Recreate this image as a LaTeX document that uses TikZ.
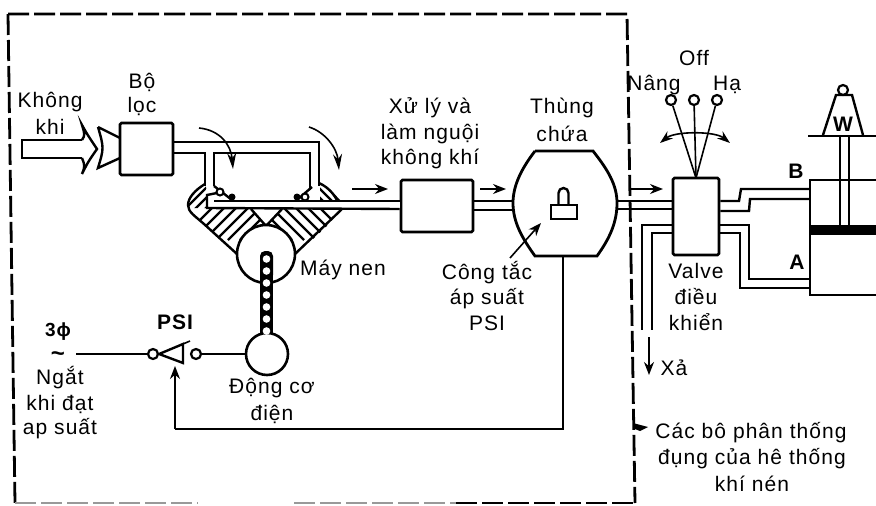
\documentclass[tikz,border=0pt]{standalone}
\usepackage{fontspec}
\setmainfont[LetterSpace=5]{Liberation Sans}
\usetikzlibrary{arrows.meta,calc}
\tikzset{
  lbl/.style={font=\fontsize{21}{24}\selectfont,inner sep=0pt,anchor=center},
  lblb/.style={font=\fontsize{21}{24}\selectfont\bfseries,inner sep=0pt,anchor=center},
  boxn/.style={draw=black,line width=2.6pt,rounded corners=1.5pt,inner sep=0pt,fill=white},
  pipe/.style={draw=black,line width=2.4pt},
  thinw/.style={draw=black,line width=1.6pt},
  hatchl/.style={draw=black,line width=2.2pt},
  ring/.style={circle,draw=black,line width=2.2pt,fill=white,inner sep=0pt,minimum size=10pt},
  tip/.style={-{Stealth[length=13pt,width=10pt]}},
  frameline/.style={draw=black,line width=2.8pt,dash pattern=on 21pt off 5pt},
}
\begin{document}
\begin{tikzpicture}[x=1pt,y=-1pt]
\useasboundingbox (0,0) rectangle (876,506);
\fill[white] (0,0) rectangle (876,506);
% frame
\coordinate (f1) at (8,14); \coordinate (f2) at (627,14); \coordinate (f3) at (635,503); \coordinate (f4) at (15,503);
\draw[frameline] (f1) -- (f2) -- (f3);
\draw[frameline] (f1) -- (f4);
\draw[frameline,draw=black!40,line width=1.6pt] (f4) -- (198,503);
\draw[frameline,draw=black!40,line width=1.6pt] (294,503) -- (456,503);
\draw[frameline] (456,503) -- (f3);
% boxes
\node[boxn,minimum width=53pt,minimum height=52pt] (filter) at (146.5,149) {};
\node[boxn,minimum width=72pt,minimum height=52pt] (cooler) at (437,206) {};
\node[boxn,minimum width=46pt,minimum height=77pt] (valve) at (696,216.5) {};
% inlet
\draw[pipe] (82,140) -- (22,140) -- (22,158) -- (82,158);
\draw[pipe,line join=miter] (82,140) .. controls (85,135) .. (82,125) .. controls (87,134) .. (97,149) .. controls (88,162) .. (82,174) .. controls (85,166) .. (82,158);
\draw[pipe] (98,127) .. controls (104,148) .. (98,168) -- (120,158) (98,127) -- (120,138);
% pipes filter to compressor
\draw[pipe] (filter.east |- 0,142) -- (319,142) -- (319,186);
\draw[pipe] (filter.east |- 0,153) -- (205,153) -- (205,186);
\draw[pipe] (214,186) -- (214,153) -- (310,153) -- (310,190);
% compressor hatch regions
\begin{scope}
\clip (189,208) -- (251,208) -- (266,226) -- (237,256) -- (204,224) -- cycle;
\foreach \s in {0,12,...,96} {\draw[hatchl] (180+\s,240) -- (240+\s,180);}
\end{scope}
\begin{scope}
\clip (282,208) -- (341,208) -- (327,226) -- (295,256) -- (266,226) -- cycle;
\foreach \s in {0,12,...,96} {\draw[hatchl] (352-\s,240) -- (292-\s,180);}
\end{scope}
\begin{scope}
\clip (205,183) .. controls (195,190) and (188,198) .. (188,208) -- (207,208) -- (207,192) -- cycle;
\foreach \s in {0,10,...,40} {\draw[hatchl] (172+\s,222) -- (217+\s,177);}
\end{scope}
\begin{scope}
\clip (320,183) .. controls (330,188) and (337,197) .. (340,200) -- (320,200) -- cycle;
\foreach \s in {0,9,...,27} {\draw[hatchl] (345-\s,205) -- (320-\s,180);}
\end{scope}
% compressor outline
\draw[pipe] (205,184) .. controls (195,190) and (188,198) .. (188,205) .. controls (188,212) and (195,216) .. (204,224) -- (237,254);
\draw[pipe] (319,183) .. controls (330,188) and (337,197) .. (341,210) -- (295,254);
\draw[pipe] (251,209) -- (266,226) -- (282,209);
% valves dots
\draw[pipe] (214,186) -- (232,200);
\draw[pipe] (297,200) -- (312,187);
\fill[black] (232,197) circle (3.5pt) (297,197) circle (3.5pt);
\node[circle,draw=black,line width=2pt,fill=white,inner sep=0pt,minimum size=7pt] (vl) at (220,192) {};
\node[circle,draw=black,line width=2pt,fill=white,inner sep=0pt,minimum size=7pt] (vr) at (305,197) {};
% pipe out
\fill[white] (207,201) rectangle (400,208);
\draw[pipe] (214,201) -- (cooler.west |- 0,201);
\draw[pipe] (217,193) -- (207,195) -- (207,208) -- (cooler.west |- 0,209);
% crank
\node[circle,draw=black,line width=2.6pt,fill=white,inner sep=0pt,minimum size=58pt] (crank) at (266,254) {};
\node[circle,draw=black,line width=2.6pt,fill=white,inner sep=0pt,minimum size=42pt] (motor) at (267,354) {};
% rod
\fill[black,rounded corners=5pt] (260,251) rectangle (273,280);
\fill[black] (260,270) rectangle (273,334);
\foreach \y in {259,271,...,333} {\fill[white] (266.5,\y) circle (3.8pt);}
% tank
\node[inner sep=0pt,minimum width=104pt,minimum height=105pt] (tank) at (565,203.5) {};
\draw[pipe,line width=2.8pt] (535,151) -- (593,151) .. controls (608,170) and (617,185) .. (617,203) .. controls (617,222) and (610,238) .. (597,256) -- (535,256) .. controls (522,238) and (513,222) .. (513,203) .. controls (513,185) and (522,168) .. (535,151);
\draw[pipe] (cooler.east |- 0,201) -- (513,201);
\draw[pipe] (cooler.east |- 0,210) -- (513,210);
\draw[pipe] (617,201) -- (valve.west |- 0,201);
\draw[pipe] (617,209) -- (valve.west |- 0,209);
% pressure switch
\node[draw=black,line width=2.4pt,inner sep=0pt,minimum width=26pt,minimum height=14pt] (psbase) at (564,212) {};
\draw[pipe] (558.5,205) -- (558.5,193) arc[start angle=180,end angle=360,radius=5] -- (568.5,205);
% arrows over pipes
\coordinate (a1s) at (352,189); \coordinate (a1e) at (388,189);
\coordinate (a2s) at (480,189); \coordinate (a2e) at (506,189);
\coordinate (a3s) at (630,189); \coordinate (a3e) at (663,189);
\draw[thinw,tip] (a1s) -- (a1e);
\draw[thinw,tip] (a2s) -- (a2e);
\draw[thinw,tip] (a3s) -- (a3e);
\draw[thinw] (a3s) -- ++(0,-7);
\draw[thinw,-{Stealth[length=16pt,width=9pt]}] (199,128) .. controls (220,130) and (231,145) .. (233,169);
\draw[thinw,-{Stealth[length=16pt,width=9pt]}] (309,127) .. controls (325,132) and (337,148) .. (339,170);
\draw[thinw,tip] (510,258) -- (541,223);
% feedback
\draw[thinw] (tank.south -| 563,0) -- (563,429) -- (175,429);
\draw[thinw,tip] (175,429) -- (175,366);
% switch
\node[ring] (sw1) at (153,354) {};
\node[ring] (sw2) at (196,354) {};
\coordinate (src) at (76,354);
\draw[pipe] (src) -- (sw1);
\draw[thinw] (sw2) -- (motor);
\draw[pipe] (sw1.east) -- (183,344) -- (183,363) -- cycle;
\draw[thinw] (183,344) -- (190,341);
% lever
\coordinate (lv) at (696,178);
\node[ring] (l1) at (671,100) {};
\node[ring] (l2) at (694,100) {};
\node[ring] (l3) at (717,100) {};
\draw[thinw] (l1) -- (lv); \draw[thinw] (l2) -- (lv); \draw[thinw] (l3) -- (lv);
\draw[thinw,{Stealth[length=13pt,width=9pt]}-{Stealth[length=13pt,width=9pt]}] (660,143) .. controls (675,131) and (715,131) .. (730,143);
% cylinder
\coordinate (cyl) at (810,180);
\draw[pipe] (876,180) -- (cyl) -- (810,295) -- (876,295);
\fill[black] (810,225) rectangle (876,235);
\draw[pipe] (840,136) -- (840,225) (849,136) -- (849,225);
\draw[pipe] (808,136) -- (876,136);
\draw[pipe] (823,135) -- (836,95) -- (852,95) -- (863,135);
\node[circle,draw=black,line width=2.2pt,fill=white,inner sep=0pt,minimum size=10pt] (wring) at (843,90) {};
% valve outlets
\draw[pipe] (valve.east |- 0,201) -- (739,201) -- (741,189) -- (810,189);
\draw[pipe] (valve.east |- 0,211) -- (749,211) -- (750,199) -- (810,199);
\draw[pipe] (valve.east |- 0,225) -- (749,225) -- (749,279) -- (810,279);
\draw[pipe] (valve.east |- 0,233) -- (740,233) -- (740,288) -- (810,288);
\draw[pipe] (valve.west |- 0,225) -- (642,225) -- (642,330);
\draw[pipe] (valve.west |- 0,233) -- (652,233) -- (652,330);
\coordinate (xs) at (649,337); \coordinate (xe) at (649,375);
\draw[thinw,tip] (xs) -- (xe);
\fill[black] (633,423) -- (648,427) -- (640,431) -- (635,429) -- cycle;
% text
\node[lbl] (t1) at (50,102) {Không};
\node[lbl] (t2) at (50,127) {khi};
\node[lbl] (t3) at (142,82) {Bộ};
\node[lbl] (t4) at (142,106) {lọc};
\node[lbl] (t5) at (343,270) {Máy nen};
\node[lbl] (t6) at (430,108) {Xử lý và};
\node[lbl] (t7) at (430,134) {làm nguội};
\node[lbl] (t8) at (430,159) {không khí};
\node[lbl] (t9) at (562,108) {Thùng};
\node[lbl] (t10) at (562,134) {chứa};
\node[lbl] (t11) at (487,273) {Công tắc};
\node[lbl] (t12) at (487,299) {áp suất};
\node[lbl] (t13) at (487,323) {PSI};
\node[lblb] (t14) at (175,322) {PSI};
\node[lblb,font=\fontsize{19}{22}\selectfont\bfseries] (t15) at (58,332) {3ϕ};
\node[lblb,font=\fontsize{24}{26}\selectfont\bfseries] (t16) at (58,357) {\char"007E};
\node[lbl] (t17) at (60,378) {Ngắt};
\node[lbl] (t18) at (60,404) {khi đạt};
\node[lbl] (t19) at (60,429) {ap suất};
\node[lbl] (t20) at (272,388) {Động cơ};
\node[lbl] (t21) at (272,414) {điện};
\node[lbl] (t22) at (694,58) {Off};
\node[lbl] (t23) at (654,85) {Nâng};
\node[lbl] (t24) at (727,85) {Hạ};
\node[lblb] (t25) at (796,171) {B};
\node[lblb] (t26) at (797,262) {A};
\node[lblb] (t27) at (843,124) {W};
\node[lbl] (t28) at (696,271) {Valve};
\node[lbl] (t29) at (696,297) {điều};
\node[lbl] (t30) at (696,322) {khiển};
\node[lbl] (t31) at (674,368) {Xả};
\node[lbl] (t32) at (751,433) {Các bô phân thống};
\node[lbl] (t33) at (752,459) {đụng của hê thống};
\node[lbl] (t34) at (752,484) {khí nén};
\end{tikzpicture}
\end{document}
